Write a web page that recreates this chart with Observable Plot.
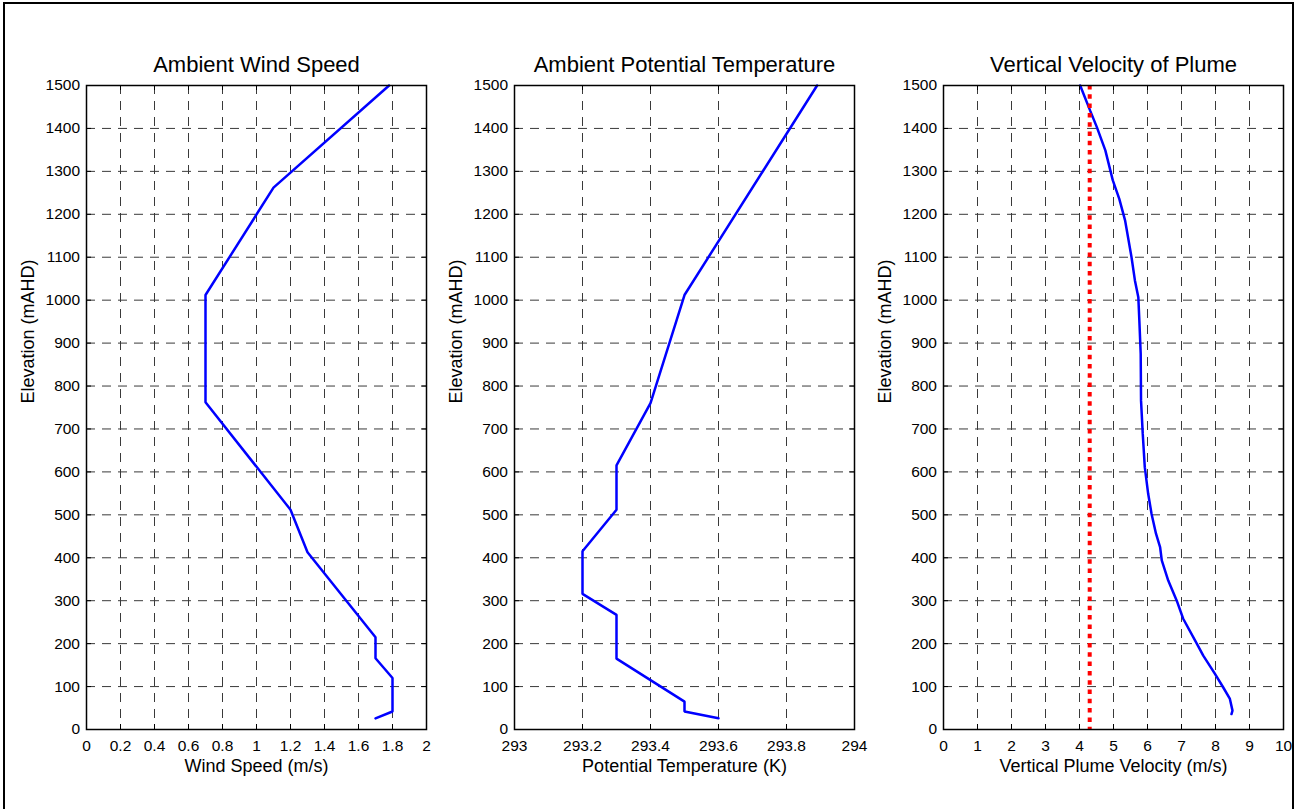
<!DOCTYPE html>
<html>
<head>
<meta charset="utf-8">
<script src="https://cdn.jsdelivr.net/npm/d3@7"></script>
<script src="https://cdn.jsdelivr.net/npm/@observablehq/plot@0.6"></script>
<style>
  html, body { margin: 0; padding: 0; background: #fff; }
  #fig {
    position: relative; width: 1297px; height: 809px; overflow: hidden;
    font-family: "Liberation Sans", Arial, Helvetica, sans-serif; background: #fff;
  }
  #fig .border {
    position: absolute; left: 3px; top: 2px; width: 1287px; height: 830px;
    border: 2.5px solid #000;
  }
  #fig .panel { position: absolute; top: 0; }
</style>
</head>
<body>
<div id="fig"><div class="border"></div></div>
<script>
// ---- Elevation axis (shared by all three panels) ----
const elevationTicks = [0, 100, 200, 300, 400, 500, 600, 700, 800, 900, 1000, 1100, 1200, 1300, 1400, 1500];

// ---- Ambient wind speed profile ----
const windElevation = [26, 42, 120, 166, 215, 413, 512, 762, 1012, 1262, 1500];
const windSpeed     = [1.7, 1.8, 1.8, 1.7, 1.7, 1.3, 1.2, 0.7, 0.7, 1.1, 1.78];
const windTicks     = [0, 0.2, 0.4, 0.6, 0.8, 1, 1.2, 1.4, 1.6, 1.8, 2];

// ---- Ambient potential temperature profile ----
const thetaElevation = [26, 42, 65, 165, 267, 316, 415, 512, 615, 760, 1012, 1500];
const theta          = [293.6, 293.5, 293.5, 293.3, 293.3, 293.2, 293.2, 293.3, 293.3, 293.4, 293.5, 293.89];
const thetaTicks     = [293, 293.2, 293.4, 293.6, 293.8, 294];

// ---- Vertical plume velocity profile ----
const plumeElevation = [36, 44, 72, 99, 130, 172, 200, 258, 300, 347, 394, 425, 456, 502, 549, 611,
                        689, 766, 875, 953, 1007, 1046, 1100, 1186, 1236, 1279, 1349, 1403, 1442, 1500];
const plumeVelocity  = [8.47, 8.50, 8.42, 8.22, 7.98, 7.64, 7.45, 7.05, 6.86, 6.61, 6.42, 6.37, 6.25, 6.12, 6.02, 5.92,
                        5.86, 5.81, 5.80, 5.76, 5.73, 5.63, 5.53, 5.34, 5.17, 4.98, 4.76, 4.51, 4.31, 4.02];
const velocityTicks  = [0, 1, 2, 3, 4, 5, 6, 7, 8, 9, 10];
const referenceVelocity = [4.3];

// ---- Panel geometry ----
const W = 430, H = 809, ML = 86, MR = 4, MT = 85, MB = 80;
const FW = W - ML - MR, FH = H - MT - MB;
const TICK = 5;
const gridStyle = {stroke: "#3a3a3a", strokeOpacity: 1, strokeWidth: 1, strokeDasharray: "9,7"};
const fmt = d => `${d}`;

function panel({left, title, xLabel, xDomain, xTicks, series, extra = []}) {
  const chart = Plot.plot({
    width: W, height: H,
    marginLeft: ML, marginRight: MR, marginTop: MT, marginBottom: MB,
    style: {fontFamily: '"Liberation Sans", Arial, Helvetica, sans-serif', fontSize: "15.5px", color: "#000", background: "transparent", overflow: "visible"},
    x: {domain: xDomain},
    y: {domain: [0, 1500]},
    marks: [
      Plot.gridX(xTicks, gridStyle),
      Plot.gridY(elevationTicks, gridStyle),
      ...series.map(([xs, ys]) =>
        Plot.line({length: xs.length}, {x: xs, y: ys, stroke: "#0000ff", strokeWidth: 2.5, strokeLinejoin: "miter"})),
      ...extra,
      // inward tick marks on all four sides
      Plot.tickX(xTicks, {x: d => d, insetTop: FH - TICK, stroke: "#000"}),
      Plot.tickX(xTicks, {x: d => d, insetBottom: FH - TICK, stroke: "#000"}),
      Plot.tickY(elevationTicks, {y: d => d, insetRight: FW - TICK, stroke: "#000"}),
      Plot.tickY(elevationTicks, {y: d => d, insetLeft: FW - TICK, stroke: "#000"}),
      Plot.frame({stroke: "#000", strokeWidth: 1.5}),
      Plot.axisX(xTicks, {tickSize: 0, tickPadding: 10, tickFormat: fmt, fontSize: 15.5, label: null}),
      Plot.axisY(elevationTicks, {tickSize: 0, tickPadding: 6.5, tickFormat: fmt, fontSize: 15.5, label: null}),
      Plot.text([title], {text: d => d, frameAnchor: "top", lineAnchor: "bottom", dy: -13.5, fontSize: 22}),
      Plot.text([xLabel], {text: d => d, frameAnchor: "bottom", lineAnchor: "bottom", dy: 42, fontSize: 18}),
      Plot.text(["Elevation (mAHD)"], {text: d => d, frameAnchor: "left", lineAnchor: "middle", rotate: -90, dx: -58, dy: -4, fontSize: 18})
    ]
  });
  chart.classList.add("panel");
  chart.style.left = `${left}px`;
  document.getElementById("fig").appendChild(chart);
}

panel({
  left: 0,
  title: "Ambient Wind Speed",
  xLabel: "Wind Speed (m/s)",
  xDomain: [0, 2],
  xTicks: windTicks,
  series: [[windSpeed, windElevation]]
});

panel({
  left: 428,
  title: "Ambient Potential Temperature",
  xLabel: "Potential Temperature (K)",
  xDomain: [293, 294],
  xTicks: thetaTicks,
  series: [[theta, thetaElevation]]
});

panel({
  left: 857,
  title: "Vertical Velocity of Plume",
  xLabel: "Vertical Plume Velocity (m/s)",
  xDomain: [0, 10],
  xTicks: velocityTicks,
  series: [[plumeVelocity, plumeElevation]],
  extra: [Plot.ruleX(referenceVelocity, {x: d => d, stroke: "#ff0000", strokeWidth: 4, strokeDasharray: "4.5,4.8"})]
});
</script>
</body>
</html>
